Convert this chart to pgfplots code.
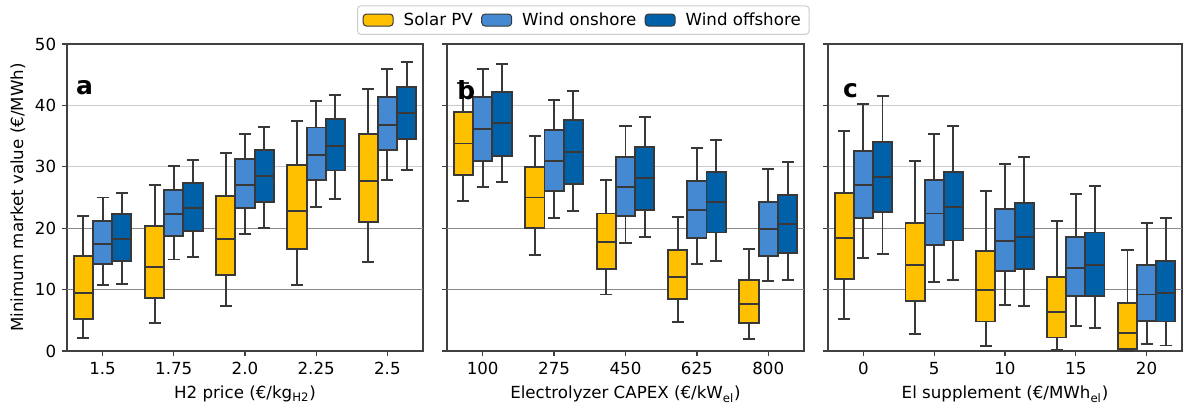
\documentclass[border=0pt]{standalone}
\usepackage{fontspec}
\setmainfont{DejaVu Sans}
\usepackage{pgfplots}
\pgfplotsset{compat=1.18}
\usepgfplotslibrary{statistics}

\definecolor{solarc}{HTML}{FFC000}
\definecolor{onc}{HTML}{4589D3}
\definecolor{offc}{HTML}{0061A8}
\definecolor{edgec}{HTML}{383838}
\definecolor{spinec}{HTML}{404040}
\definecolor{gridlight}{HTML}{CCCCCC}
\definecolor{gridmid}{HTML}{8A8A8A}

\tikzset{plab/.style={font=\fontsize{15}{15}\selectfont\bfseries, anchor=base west, inner sep=0pt}}

\pgfplotsset{
  panel/.style={
    scale only axis, height=184.2pt,
    anchor=south west,
    xmin=-0.5, xmax=4.5, ymin=0, ymax=50,
    xtick={0,...,4}, ytick={0,30,40,50},
    extra y ticks={10,20},
    extra y tick style={grid=major, major grid style={gridmid, line width=0.6pt}},
    ymajorgrids, major grid style={gridlight, line width=0.8pt},
    tick align=outside, xtick pos=bottom, ytick pos=left,
    major tick length=3pt,
    axis line style={spinec, line width=0.8pt},
    tick style={spinec, line width=0.8pt},
    /pgf/number format/assume math mode=true,
    tick label style={font=\fontsize{10}{12}\selectfont},
    label style={font=\fontsize{10}{12}\selectfont},
    xlabel style={at={(axis description cs:0.5,-0.156)}, anchor=base},
    boxplot/draw direction=y,
    boxplot/box extend=0.27,
    boxplot/whisker extend=0.17,
  },
  bx/.style={forget plot, mark=none, draw=edgec, line width=1.15pt},
  sol/.style={bx, fill=solarc},
  ons/.style={bx, fill=onc},
  ofs/.style={bx, fill=offc},
}

\begin{document}
\begin{tikzpicture}
\useasboundingbox (0,0) rectangle (710.4pt,244.8pt);

% panel a: H2 price
\begin{axis}[panel, at={(40.2pt,34.2pt)}, width=213.6pt,
  xticklabels={1.5,1.75,2.0,2.25,2.5},
  xlabel={H2 price (€/kg\textsubscript{H2})},
  ylabel={Minimum market value (€/MWh)},
  ylabel style={at={(axis description cs:-0.138,0.5)}, anchor=center},
]
\addplot[sol, boxplot prepared={draw position=-0.27, lower whisker=2.1, lower quartile=5.2, median=9.5, upper quartile=15.5, upper whisker=22.0}] coordinates {};
\addplot[sol, boxplot prepared={draw position=0.73, lower whisker=4.5, lower quartile=8.6, median=13.7, upper quartile=20.4, upper whisker=27.1}] coordinates {};
\addplot[sol, boxplot prepared={draw position=1.73, lower whisker=7.3, lower quartile=12.4, median=18.2, upper quartile=25.3, upper whisker=32.2}] coordinates {};
\addplot[sol, boxplot prepared={draw position=2.73, lower whisker=10.8, lower quartile=16.6, median=22.8, upper quartile=30.3, upper whisker=37.4}] coordinates {};
\addplot[sol, boxplot prepared={draw position=3.73, lower whisker=14.5, lower quartile=21.0, median=27.7, upper quartile=35.3, upper whisker=42.6}] coordinates {};
\addplot[ons, boxplot prepared={draw position=0, lower whisker=10.8, lower quartile=14.1, median=17.5, upper quartile=21.2, upper whisker=25.0}] coordinates {};
\addplot[ons, boxplot prepared={draw position=1, lower whisker=14.9, lower quartile=18.7, median=22.3, upper quartile=26.2, upper whisker=30.2}] coordinates {};
\addplot[ons, boxplot prepared={draw position=2, lower whisker=19.1, lower quartile=23.3, median=27.1, upper quartile=31.3, upper whisker=35.4}] coordinates {};
\addplot[ons, boxplot prepared={draw position=3, lower whisker=23.4, lower quartile=27.9, median=31.9, upper quartile=36.4, upper whisker=40.7}] coordinates {};
\addplot[ons, boxplot prepared={draw position=4, lower whisker=27.8, lower quartile=32.7, median=36.8, upper quartile=41.4, upper whisker=45.9}] coordinates {};
\addplot[ofs, boxplot prepared={draw position=0.27, lower whisker=10.9, lower quartile=14.7, median=18.2, upper quartile=22.3, upper whisker=25.8}] coordinates {};
\addplot[ofs, boxplot prepared={draw position=1.27, lower whisker=15.3, lower quartile=19.5, median=23.3, upper quartile=27.4, upper whisker=31.1}] coordinates {};
\addplot[ofs, boxplot prepared={draw position=2.27, lower whisker=20.0, lower quartile=24.3, median=28.5, upper quartile=32.7, upper whisker=36.5}] coordinates {};
\addplot[ofs, boxplot prepared={draw position=3.27, lower whisker=24.7, lower quartile=29.4, median=33.4, upper quartile=37.8, upper whisker=41.7}] coordinates {};
\addplot[ofs, boxplot prepared={draw position=4.27, lower whisker=29.5, lower quartile=34.5, median=38.7, upper quartile=43.0, upper whisker=47.1}] coordinates {};
\node[plab] at (rel axis cs:0.025,0.834) {a};
\end{axis}

% panel b: electrolyzer CAPEX
\begin{axis}[panel, at={(268.2pt,34.2pt)}, width=214.2pt,
  xticklabels={100,275,450,625,800},
  yticklabels={}, extra y tick labels={},
  xlabel={Electrolyzer CAPEX (€/kW\textsubscript{el})},
  legend style={at={(0.382,1.078)}, anchor=center, legend columns=3,
    draw=gridlight, line width=0.6pt, rounded corners=2pt,
    font=\fontsize{10}{12}\selectfont, inner xsep=3pt, inner ysep=2pt,
    /tikz/every even column/.append style={column sep=3pt}},
  legend image code/.code={\draw[#1, line width=0.6pt] (0pt,-3.6pt) rectangle (18pt,3.6pt);},
]
\addlegendimage{draw=edgec, fill=solarc}
\addlegendimage{draw=edgec, fill=onc}
\addlegendimage{draw=edgec, fill=offc}
\legend{\makebox[4pt]{}Solar PV, \makebox[4pt]{}Wind onshore, \makebox[4pt]{}Wind offshore}
\addplot[sol, boxplot prepared={draw position=-0.27, lower whisker=24.4, lower quartile=28.7, median=33.8, upper quartile=39.0, upper whisker=43.7}] coordinates {};
\addplot[sol, boxplot prepared={draw position=0.73, lower whisker=15.7, lower quartile=20.1, median=25.0, upper quartile=30.0, upper whisker=35.0}] coordinates {};
\addplot[sol, boxplot prepared={draw position=1.73, lower whisker=9.2, lower quartile=13.4, median=17.8, upper quartile=22.4, upper whisker=27.8}] coordinates {};
\addplot[sol, boxplot prepared={draw position=2.73, lower whisker=4.7, lower quartile=8.4, median=12.1, upper quartile=16.4, upper whisker=21.8}] coordinates {};
\addplot[sol, boxplot prepared={draw position=3.73, lower whisker=1.9, lower quartile=4.6, median=7.7, upper quartile=11.5, upper whisker=16.6}] coordinates {};
\addplot[ons, boxplot prepared={draw position=0, lower whisker=26.7, lower quartile=31.0, median=36.2, upper quartile=41.3, upper whisker=45.9}] coordinates {};
\addplot[ons, boxplot prepared={draw position=1, lower whisker=21.6, lower quartile=26.0, median=31.0, upper quartile=36.0, upper whisker=40.9}] coordinates {};
\addplot[ons, boxplot prepared={draw position=2, lower whisker=17.6, lower quartile=22.0, median=26.7, upper quartile=31.6, upper whisker=36.6}] coordinates {};
\addplot[ons, boxplot prepared={draw position=3, lower whisker=14.1, lower quartile=18.4, median=23.0, upper quartile=27.7, upper whisker=33.0}] coordinates {};
\addplot[ons, boxplot prepared={draw position=4, lower whisker=11.4, lower quartile=15.4, median=19.8, upper quartile=24.3, upper whisker=29.7}] coordinates {};
\addplot[ofs, boxplot prepared={draw position=0.27, lower whisker=27.6, lower quartile=31.8, median=37.2, upper quartile=42.2, upper whisker=46.8}] coordinates {};
\addplot[ofs, boxplot prepared={draw position=1.27, lower whisker=22.8, lower quartile=27.2, median=32.4, upper quartile=37.6, upper whisker=42.3}] coordinates {};
\addplot[ofs, boxplot prepared={draw position=2.27, lower whisker=18.5, lower quartile=23.0, median=28.2, upper quartile=33.2, upper whisker=38.1}] coordinates {};
\addplot[ofs, boxplot prepared={draw position=3.27, lower whisker=14.7, lower quartile=19.3, median=24.2, upper quartile=29.1, upper whisker=34.3}] coordinates {};
\addplot[ofs, boxplot prepared={draw position=4.27, lower whisker=11.5, lower quartile=16.0, median=20.7, upper quartile=25.4, upper whisker=30.8}] coordinates {};
\node[plab] at (rel axis cs:0.028,0.818) {b};
\end{axis}

% panel c: El supplement
\begin{axis}[panel, at={(496.8pt,34.2pt)}, width=212.4pt,
  xticklabels={0,5,10,15,20},
  yticklabels={}, extra y tick labels={},
  xlabel={El supplement (€/MWh\textsubscript{el})},
]
\addplot[sol, boxplot prepared={draw position=-0.27, lower whisker=5.2, lower quartile=11.8, median=18.4, upper quartile=25.7, upper whisker=35.8}] coordinates {};
\addplot[sol, boxplot prepared={draw position=0.73, lower whisker=2.8, lower quartile=8.1, median=14.0, upper quartile=20.9, upper whisker=31.0}] coordinates {};
\addplot[sol, boxplot prepared={draw position=1.73, lower whisker=0.8, lower quartile=4.8, median=10.0, upper quartile=16.3, upper whisker=26.0}] coordinates {};
\addplot[sol, boxplot prepared={draw position=2.73, lower whisker=0.1, lower quartile=2.2, median=6.3, upper quartile=12.0, upper whisker=21.2}] coordinates {};
\addplot[sol, boxplot prepared={draw position=3.73, lower whisker=0.0, lower quartile=0.4, median=3.0, upper quartile=7.8, upper whisker=16.4}] coordinates {};
\addplot[ons, boxplot prepared={draw position=0, lower whisker=15.2, lower quartile=21.7, median=27.0, upper quartile=32.6, upper whisker=40.3}] coordinates {};
\addplot[ons, boxplot prepared={draw position=1, lower whisker=11.2, lower quartile=17.3, median=22.4, upper quartile=27.8, upper whisker=35.4}] coordinates {};
\addplot[ons, boxplot prepared={draw position=2, lower whisker=7.5, lower quartile=13.0, median=17.9, upper quartile=23.1, upper whisker=30.4}] coordinates {};
\addplot[ons, boxplot prepared={draw position=3, lower whisker=4.0, lower quartile=8.9, median=13.5, upper quartile=18.5, upper whisker=25.6}] coordinates {};
\addplot[ons, boxplot prepared={draw position=4, lower whisker=1.1, lower quartile=4.9, median=9.2, upper quartile=14.0, upper whisker=20.9}] coordinates {};
\addplot[ofs, boxplot prepared={draw position=0.27, lower whisker=15.8, lower quartile=22.7, median=28.4, upper quartile=34.0, upper whisker=41.6}] coordinates {};
\addplot[ofs, boxplot prepared={draw position=1.27, lower whisker=11.5, lower quartile=18.0, median=23.5, upper quartile=29.1, upper whisker=36.7}] coordinates {};
\addplot[ofs, boxplot prepared={draw position=2.27, lower whisker=7.4, lower quartile=13.4, median=18.6, upper quartile=24.1, upper whisker=31.6}] coordinates {};
\addplot[ofs, boxplot prepared={draw position=3.27, lower whisker=3.75, lower quartile=8.9, median=14.0, upper quartile=19.3, upper whisker=26.8}] coordinates {};
\addplot[ofs, boxplot prepared={draw position=4.27, lower whisker=0.9, lower quartile=4.8, median=9.5, upper quartile=14.7, upper whisker=21.7}] coordinates {};
\node[plab] at (rel axis cs:0.042,0.827) {c};
\end{axis}
\end{tikzpicture}
\end{document}
